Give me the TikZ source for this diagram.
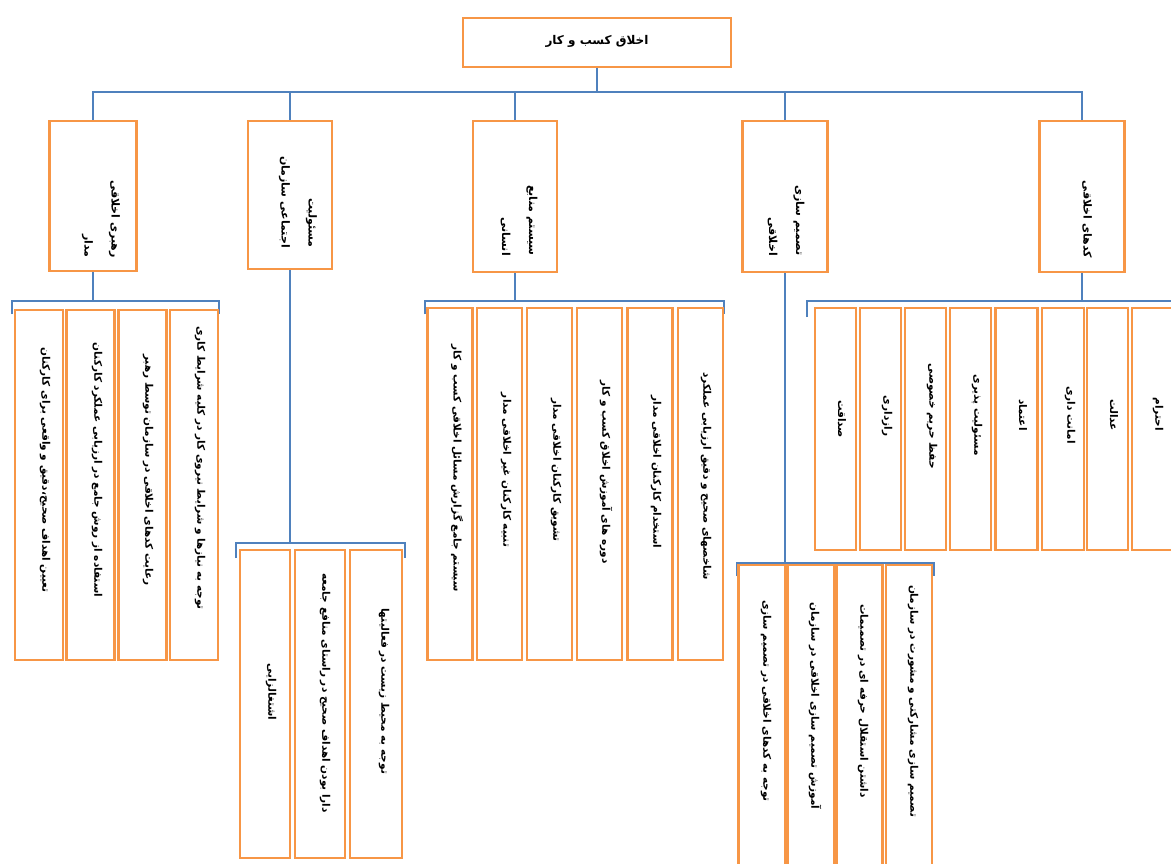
\documentclass[tikz,border=0pt]{standalone}
\usepackage{fontspec}
\TeXXeTstate=1
\newfontfamily\arabicfont[Script=Arabic]{DejaVu Sans}
\newcommand{\ar}[1]{{\arabicfont\beginR #1\endR}}
\definecolor{boxorange}{RGB}{247,150,70}
\definecolor{connblue}{RGB}{79,129,189}
\begin{document}
\begin{tikzpicture}[x=1pt,y=-1pt,
  box/.style={draw=boxorange, line width=2.9pt, fill=white, inner sep=0pt, rectangle},
  conn/.style={draw=connblue, line width=2.4pt},
  toplbl/.style={inner sep=0pt, font=\fontsize{12}{14}\selectfont\bfseries},
  catlbl/.style={rotate=-90, inner sep=0pt, anchor=east, align=right, font=\fontsize{11}{27}\selectfont\bfseries},
  itemlbl/.style={rotate=-90, inner sep=0pt, font=\fontsize{10.5}{12}\selectfont\bfseries}]
\clip (0,0) rectangle (1171,864);
\fill[white] (0,0) rectangle (1171,864);

% top
\node[box, minimum width=268pt, minimum height=49pt] (top) at (597,42.5) {};
\node[toplbl] (ttop) at (597,41) {\ar{اخلاق کسب و کار}};

% level 1 boxes
\node[box, minimum width=87pt, minimum height=150pt] (c1) at (93,196) {};
\node[box, minimum width=84pt, minimum height=148pt] (c2) at (290,195) {};
\node[box, minimum width=84pt, minimum height=151pt] (c3) at (515,196.5) {};
\node[box, minimum width=85pt, minimum height=151pt] (c4) at (785,196.5) {};
\node[box, minimum width=85pt, minimum height=151pt] (c5) at (1082,196.5) {};

\node[catlbl] (tc1) at (101,258) {\ar{رهبری اخلاقی}\\\ar{مدار}};
\node[catlbl] (tc2) at (298,248) {\ar{مسئولیت}\\\ar{اجتماعی سازمان}};
\node[catlbl] (tc3) at (519,256) {\ar{سیستم منابع}\\\ar{انسانی}};
\node[catlbl] (tc4) at (786,256) {\ar{تصمیم سازی}\\\ar{اخلاقی}};
\node[catlbl] (tc5) at (1087,258) {\ar{کدهای اخلاقی}};

% top connectors
\coordinate (busT) at (597,92);
\draw[conn] (top.south) -- (busT);
\draw[conn] (c1.north) |- (busT) -| (c5.north);
\draw[conn] (c2.north) -- (c2.north |- busT);
\draw[conn] (c3.north) -- (c3.north |- busT);
\draw[conn] (c4.north) -- (c4.north |- busT);

% group A
\coordinate (busA) at (93,301);
\coordinate (aL) at (12,314);
\coordinate (aR) at (219,314);
\draw[conn] (c1.south) -- (busA);
\draw[conn] (aL) |- (busA) -| (aR);
\node[box, minimum width=48pt, minimum height=350pt] (a1) at (39,485) {};
\node[box, minimum width=48pt, minimum height=350pt] (a2) at (90.7,485) {};
\node[box, minimum width=48pt, minimum height=350pt] (a3) at (142.3,485) {};
\node[box, minimum width=48pt, minimum height=350pt] (a4) at (194,485) {};
\node[itemlbl] (ta1) at (45,470) {\ar{تعیین اهداف صحیح،دقیق و واقعی برای کارکنان}};
\node[itemlbl] (ta2) at (97,470) {\ar{استفاده از روش جامع در ارزیابی عملکرد کارکنان}};
\node[itemlbl] (ta3) at (148,470) {\ar{رعایت کدهای اخلاقی در سازمان توسط رهبر}};
\node[itemlbl] (ta4) at (200,468) {\ar{توجه به نیازها و شرایط نیروی کار در کلیه شرایط کاری}};

% group B
\coordinate (busB) at (290,543);
\coordinate (bL) at (236,558);
\coordinate (bR) at (405,558);
\draw[conn] (c2.south) -- (busB);
\draw[conn] (bL) |- (busB) -| (bR);
\node[box, minimum width=50pt, minimum height=308pt] (b1) at (265,704) {};
\node[box, minimum width=50pt, minimum height=308pt] (b2) at (320,704) {};
\node[box, minimum width=52pt, minimum height=308pt] (b3) at (376,704) {};
\node[itemlbl] (tb1) at (271,692) {\ar{اشتغالزایی}};
\node[itemlbl] (tb2) at (325,693) {\ar{دارا بودن اهداف صحیح در راستای منافع جامعه}};
\node[itemlbl] (tb3) at (384,691) {\ar{توجه به محیط زیست در فعالیتها}};

% group C
\coordinate (busC) at (515,301);
\coordinate (cL) at (425,314);
\coordinate (cR) at (724,314);
\draw[conn] (c3.south) -- (busC);
\draw[conn] (cL) |- (busC) -| (cR);
\node[box, minimum width=45pt, minimum height=352pt] (s1) at (450,484) {};
\node[box, minimum width=45pt, minimum height=352pt] (s2) at (499.5,484) {};
\node[box, minimum width=45pt, minimum height=352pt] (s3) at (549.5,484) {};
\node[box, minimum width=45pt, minimum height=352pt] (s4) at (599.5,484) {};
\node[box, minimum width=45pt, minimum height=352pt] (s5) at (650,484) {};
\node[box, minimum width=45pt, minimum height=352pt] (s6) at (700.5,484) {};
\node[itemlbl] (ts1) at (457,468) {\ar{سیستم جامع گزارش مسائل اخلاقی کسب و کار}};
\node[itemlbl] (ts2) at (506,470) {\ar{تنبیه کارکنان غیر اخلاقی مدار}};
\node[itemlbl] (ts3) at (556,470) {\ar{تشویق کارکنان اخلاقی مدار}};
\node[itemlbl] (ts4) at (606,472) {\ar{دوره های آموزش اخلاق کسب و کار}};
\node[itemlbl] (ts5) at (656,472) {\ar{استخدام کارکنان اخلاقی مدار}};
\node[itemlbl] (ts6) at (706,476) {\ar{شاخصهای صحیح و دقیق ارزیابی عملکرد}};

% group D
\coordinate (busD) at (785,563);
\coordinate (dL) at (737,576);
\coordinate (dR) at (934,576);
\draw[conn] (c4.south) -- (busD);
\draw[conn] (dL) |- (busD) -| (dR);
\node[box, minimum width=47pt, minimum height=306pt] (d1) at (762,718) {};
\node[box, minimum width=46pt, minimum height=306pt] (d2) at (811,718) {};
\node[box, minimum width=46pt, minimum height=306pt] (d3) at (859.5,718) {};
\node[box, minimum width=46pt, minimum height=306pt] (d4) at (909,718) {};
\node[itemlbl] (td1) at (766,701) {\ar{توجه به کدهای اخلاقی در تصمیم سازی}};
\node[itemlbl] (td2) at (815,706) {\ar{آموزش تصمیم سازی اخلاقی در سازمان}};
\node[itemlbl] (td3) at (863,701) {\ar{داشتن استقلال حرفه ای در تصمیمات}};
\node[itemlbl] (td4) at (913,701) {\ar{تصمیم سازی مشارکتی و مشورت در سازمان}};

% group E
\coordinate (busE) at (1082,301);
\coordinate (eL) at (807,317);
\coordinate (eR) at (1180,301);
\draw[conn] (c5.south) -- (busE);
\draw[conn] (eL) |- (busE) -- (eR);
\node[box, minimum width=41pt, minimum height=242pt] (e1) at (835.5,429) {};
\node[box, minimum width=41pt, minimum height=242pt] (e2) at (880.5,429) {};
\node[box, minimum width=41pt, minimum height=242pt] (e3) at (925.5,429) {};
\node[box, minimum width=41pt, minimum height=242pt] (e4) at (970.5,429) {};
\node[box, minimum width=42pt, minimum height=242pt] (e5) at (1016.5,429) {};
\node[box, minimum width=42pt, minimum height=242pt] (e6) at (1063,429) {};
\node[box, minimum width=41pt, minimum height=242pt] (e7) at (1107.5,429) {};
\node[box, minimum width=46pt, minimum height=242pt] (e8) at (1155,429) {};
\node[itemlbl] (te1) at (842,419) {\ar{صداقت}};
\node[itemlbl] (te2) at (887,416) {\ar{رازداری}};
\node[itemlbl] (te3) at (932,416) {\ar{حفظ حریم خصوصی}};
\node[itemlbl] (te4) at (977,415) {\ar{مسئولیت پذیری}};
\node[itemlbl] (te5) at (1023,415) {\ar{اعتماد}};
\node[itemlbl] (te6) at (1070,415) {\ar{امانت داری}};
\node[itemlbl] (te7) at (1114,415) {\ar{عدالت}};
\node[itemlbl] (te8) at (1158,414) {\ar{احترام}};
\end{tikzpicture}
\end{document}
